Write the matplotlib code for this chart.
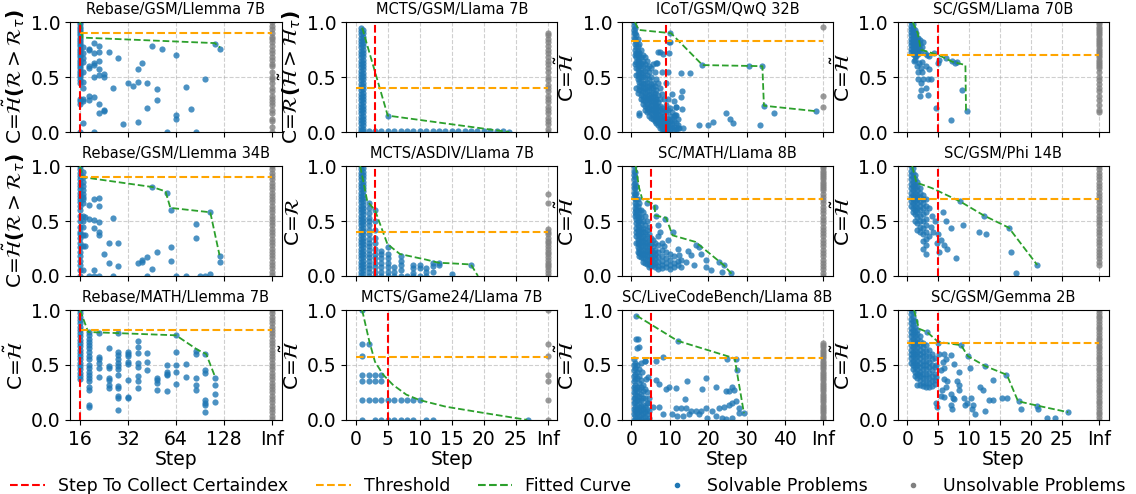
import matplotlib
matplotlib.use('Agg')
import matplotlib.pyplot as plt
from matplotlib.lines import Line2D
from matplotlib.ticker import NullLocator

BLUE = '#1f77b4'
GRAY = 'gray'
RED = 'red'
ORANGE = 'orange'
GREEN = '#2ca02c'

titles = ["Rebase/GSM/Llemma 7B", "MCTS/GSM/Llama 7B", "ICoT/GSM/QwQ 32B", "SC/GSM/Llama 70B",
          "Rebase/GSM/Llemma 34B", "MCTS/ASDIV/Llama 7B", "SC/MATH/Llama 8B", "SC/GSM/Phi 14B",
          "Rebase/MATH/Llemma 7B", "MCTS/Game24/Llama 7B", "SC/LiveCodeBench/Llama 8B", "SC/GSM/Gemma 2B"]
YL_RH = r'C=$\tilde{\mathcal{H}}\mathbf{(}\mathcal{R}>\mathcal{R}_{\tau}\mathbf{)}$'
YL_RHH = r'C=$\mathcal{R}\mathbf{(}\tilde{\mathcal{H}}>\mathcal{H}_{\tau}\mathbf{)}$'
YL_H = r'C=$\tilde{\mathcal{H}}$'
YL_R = r'C=$\mathcal{R}$'
ylabels = [YL_RH, YL_RHH, YL_H, YL_H, YL_RH, YL_R, YL_H, YL_H, YL_H, YL_H, YL_H, YL_H]
red_steps = [16, 3, 9, 5, 16, 3, 5, 5, 16, 5, 5, 5]
thresholds = [0.9, 0.4, 0.83, 0.7, 0.9, 0.4, 0.7, 0.7, 0.82, 0.57, 0.565, 0.7]

# per column x axes
col_ticks = [[16, 32, 64, 128, 256], [0, 5, 10, 15, 20, 25, 30], [0, 10, 20, 30, 40, 50], [0, 5, 10, 15, 20, 25, 31]]
col_ticklabels = [['16', '32', '64', '128', 'Inf'], ['0', '5', '10', '15', '20', '25', 'Inf'],
                  ['0', '10', '20', '30', '40', 'Inf'], ['0', '5', '10', '15', '20', '25', 'Inf']]
col_inf = [256, 30, 50, 31]
col_start = [16, 0, 0, 0]

# ---------------- Panel A: Rebase/GSM/Llemma 7B
a_col_x = [16, 16.7]
a_col_y = [[1.0, 0.98, 0.96, 0.94, 0.92, 0.9, 0.88, 0.86, 0.84, 0.82, 0.8, 0.78, 0.76, 0.74, 0.72, 0.7, 0.68, 0.66,
            0.64, 0.62, 0.6, 0.58, 0.56, 0.54, 0.52, 0.5, 0.47, 0.45, 0.3, 0.28, 0.26, 0.0],
           [0.77, 0.72, 0.67, 0.64, 0.55, 0.46, 0.4, 0.3, 0.28, 0.08]]
a_pts = [(18.3, 0.76), (18.3, 0.75), (19.7, 0.81), (21.1, 0.78), (21.1, 0.73), (19.7, 0.72), (19.7, 0.63), (21.1, 0.65),
         (18.3, 0.60), (18.3, 0.58), (19.7, 0.61), (21.1, 0.57), (19.7, 0.50), (21.1, 0.52), (22.6, 0.53), (22.6, 0.50),
         (18.3, 0.33), (18.3, 0.29), (19.7, 0.32), (21.1, 0.26), (21.1, 0.17), (22.6, 0.20), (22.6, 0.19), (19.7, 0.0),
         (24.2, 0.73), (27.7, 0.67), (25.9, 0.40), (29.9, 0.07), (32, 0.45), (34.2, 0.42), (36.8, 0.46), (36.8, 0.57),
         (39.4, 0.63), (42.3, 0.45), (36.8, 0.09), (42.3, 0.22), (45.5, 0.78), (48.6, 0.39), (48.6, 0.29), (52.3, 0.76),
         (56, 0.0), (64.3, 0.70), (64.3, 0.16), (64.3, 0.12), (74, 0.41), (79.5, 0.21), (85, 0.0), (97.7, 0.48),
         (112, 0.80), (121, 0.76)]
a_uy = [1.0, 0.97, 0.94, 0.9, 0.87, 0.85, 0.82, 0.78, 0.75, 0.72, 0.68, 0.66, 0.62, 0.6, 0.55, 0.5, 0.48, 0.45, 0.4,
        0.37, 0.33, 0.3, 0.27, 0.25, 0.2, 0.17, 0.12, 0.1, 0.05, 0.0]
a_fit = [(16, 1.0), (16.6, 0.86), (112, 0.81), (121, 0.77)]

# ---------------- Panel B: MCTS/GSM/Llama 7B
b_col_x = [0.8, 1.1]
b_col_y = [[0.95, 0.92, 0.89, 0.86, 0.83, 0.8, 0.77, 0.74, 0.71, 0.68, 0.65, 0.62, 0.59, 0.56, 0.53, 0.5, 0.47, 0.44,
            0.41, 0.38, 0.35, 0.32, 0.29, 0.26, 0.23, 0.2, 0.17, 0.14, 0.11, 0.08, 0.05, 0.02, 0.0],
           [0.93, 0.9, 0.87, 0.84, 0.81, 0.78, 0.75, 0.72, 0.69, 0.66, 0.63, 0.6, 0.57, 0.54, 0.51, 0.48, 0.45, 0.42,
            0.39, 0.36, 0.33, 0.3, 0.27, 0.24, 0.21, 0.18, 0.15, 0.12, 0.09, 0.06, 0.03, 0.01]]
b_pts = [(5, 0.15), (2, 0.01), (3, 0.01), (4, 0.01), (5, 0.01), (6, 0.01), (7, 0.01), (8, 0.01), (9, 0.01),
         (10, 0.01), (11, 0.01), (12, 0.01), (13, 0.01), (14, 0.01), (15, 0.01), (16, 0.01), (17, 0.01), (18, 0.01),
         (19, 0.01), (20, 0.01), (21, 0.01), (22, 0.01), (23, 0.01), (24, 0.0)]
b_uy = [0.9, 0.88, 0.85, 0.82, 0.78, 0.75, 0.72, 0.68, 0.65, 0.62, 0.58, 0.55, 0.5, 0.47, 0.43, 0.4, 0.37, 0.33, 0.3,
        0.27, 0.23, 0.2, 0.17, 0.13, 0.1, 0.07, 0.03, 0.0]
b_fit = [(1, 0.95), (5, 0.15), (24, 0.0)]

# ---------------- Panel C: ICoT/GSM/QwQ 32B
c_col_x = [0.6, 0.9, 1.2, 1.6, 2.0, 2.5, 3.0, 3.5, 4.0, 4.5, 5.0, 5.5, 6.0, 6.5, 7.0, 7.5, 8.0, 8.5, 9.0, 9.5, 10,
           10.5, 11, 11.5, 12]
c_col_y = [[1.0, 0.97, 0.93, 0.9, 0.86],
           [0.95, 0.9, 0.85, 0.8, 0.75, 0.7, 0.62],
           [0.88, 0.82, 0.77, 0.72, 0.68, 0.64, 0.58, 0.52, 0.4],
           [0.85, 0.78, 0.74, 0.7, 0.66, 0.62, 0.57, 0.53, 0.48, 0.36],
           [0.8, 0.72, 0.68, 0.64, 0.6, 0.55, 0.5, 0.46, 0.42, 0.38, 0.17],
           [0.75, 0.68, 0.63, 0.58, 0.54, 0.5, 0.46, 0.42, 0.38, 0.34, 0.3],
           [0.7, 0.65, 0.6, 0.55, 0.5, 0.45, 0.41, 0.37, 0.33, 0.29, 0.26],
           [0.68, 0.62, 0.56, 0.5, 0.45, 0.4, 0.36, 0.32, 0.28, 0.24, 0.2],
           [0.65, 0.58, 0.52, 0.46, 0.41, 0.37, 0.33, 0.3, 0.26, 0.22, 0.18],
           [0.6, 0.55, 0.48, 0.42, 0.38, 0.34, 0.3, 0.27, 0.23, 0.19, 0.15],
           [0.58, 0.5, 0.44, 0.4, 0.35, 0.31, 0.28, 0.25, 0.21, 0.17, 0.13],
           [0.62, 0.45, 0.4, 0.36, 0.32, 0.28, 0.24, 0.2, 0.16, 0.12],
           [0.55, 0.42, 0.36, 0.32, 0.28, 0.25, 0.21, 0.18, 0.14, 0.1],
           [0.63, 0.48, 0.38, 0.3, 0.26, 0.22, 0.18, 0.15, 0.11, 0.08],
           [0.73, 0.45, 0.34, 0.27, 0.23, 0.19, 0.16, 0.12, 0.09, 0.06],
           [0.4, 0.3, 0.24, 0.2, 0.16, 0.13, 0.1, 0.07, 0.04],
           [0.55, 0.35, 0.22, 0.18, 0.14, 0.11, 0.08, 0.05, 0.03],
           [0.3, 0.2, 0.15, 0.12, 0.09, 0.06, 0.03, 0.01],
           [0.45, 0.25, 0.18, 0.1, 0.07, 0.04, 0.02],
           [0.55, 0.3, 0.2, 0.12, 0.08, 0.05, 0.02],
           [0.82, 0.22, 0.15, 0.1, 0.06, 0.03],
           [0.35, 0.18, 0.12, 0.07, 0.04],
           [0.28, 0.15, 0.1, 0.05, 0.02],
           [0.23, 0.16, 0.08, 0.03],
           [0.12, 0.06, 0.04]]
c_pts = [(7.3, 0.73), (6.6, 0.63), (12.9, 0.54), (15.3, 0.54), (13.1, 0.37), (12.9, 0.32), (11.6, 0.23), (13.1, 0.21),
         (11.4, 0.16), (9.9, 0.82), (10, 0.9), (8.3, 0.71), (9.9, 0.72), (18.5, 0.61), (30.5, 0.60), (33.9, 0.60),
         (34.5, 0.24), (37.2, 0.17), (48.1, 0.19), (24.5, 0.17), (25.6, 0.12), (26.4, 0.08), (21.3, 0.09), (20, 0.06),
         (17.6, 0.06), (33.6, 0.06), (2.0, 0.16), (12.4, 0.04), (13.5, 0.04)]
c_uy = [0.96, 0.33, 0.23]
c_fit = [(0.9, 1.0), (1.9, 0.93), (10.3, 0.9), (18.5, 0.61), (34.1, 0.60), (34.5, 0.24), (48.1, 0.19)]

# ---------------- Panel D: SC/GSM/Llama 70B
d_col_x = [0.6, 0.9, 1.2, 1.5, 1.8, 2.1]
d_col_y = [[1.0, 0.97, 0.94, 0.91, 0.88, 0.85, 0.82, 0.79, 0.76, 0.73],
           [0.98, 0.95, 0.92, 0.89, 0.86, 0.83, 0.8, 0.77, 0.74, 0.71],
           [0.93, 0.9, 0.87, 0.84, 0.81, 0.78, 0.75, 0.72, 0.69],
           [0.9, 0.87, 0.84, 0.81, 0.78, 0.75, 0.72, 0.69],
           [0.86, 0.83, 0.8, 0.77, 0.74, 0.71],
           [0.84, 0.8, 0.76, 0.73]]
d_pts = [(1.3, 0.66), (1.9, 0.63), (2.4, 0.64), (1.6, 0.60), (2.2, 0.58), (3.0, 0.60), (3.5, 0.57), (1.7, 0.55),
         (2.4, 0.55), (1.7, 0.48), (2.5, 0.48), (3.4, 0.48), (3.9, 0.48), (2.2, 0.45), (2.3, 0.38), (3.0, 0.40),
         (2.0, 0.33), (3.4, 0.34), (4.6, 0.22), (7.0, 0.11), (8.9, 0.38), (9.6, 0.19), (7.3, 0.65), (7.7, 0.63),
         (8.1, 0.64), (4.3, 0.72), (5.1, 0.66), (4.9, 0.63), (6.2, 0.67), (2.8, 0.72), (3.5, 0.69), (1.1, 0.65),
         (2.6, 0.82), (2.4, 0.77), (3.2, 0.70)]
d_uy = [1.0, 0.98, 0.96, 0.94, 0.92, 0.9, 0.88, 0.86, 0.84, 0.82, 0.8, 0.78, 0.76, 0.74, 0.72, 0.7, 0.68, 0.66, 0.64,
        0.62, 0.6, 0.58, 0.55, 0.5, 0.47, 0.44, 0.4, 0.37, 0.33, 0.29, 0.25, 0.2, 0.18]
d_fit = [(0.9, 1.0), (1.7, 0.9), (2.2, 0.75), (5.1, 0.70), (7.3, 0.64), (9.4, 0.61), (9.5, 0.19)]

# ---------------- Panel E: Rebase/GSM/Llemma 34B
e_col_x = [16, 16.7]
e_col_y = [[1.0, 0.97, 0.94, 0.91, 0.88, 0.85, 0.82, 0.79, 0.76, 0.73, 0.7, 0.67, 0.64, 0.6, 0.55, 0.5, 0.45, 0.4,
            0.38, 0.35, 0.3, 0.26, 0.22, 0.18, 0.14, 0.1, 0.05, 0.0],
           [0.95, 0.9, 0.86, 0.82, 0.78, 0.75, 0.72, 0.7, 0.66, 0.55, 0.5, 0.45, 0.37, 0.27, 0.05]]
e_pts = [(18.3, 0.65), (19.7, 0.70), (21.1, 0.71), (21.1, 0.64), (19.7, 0.51), (21.1, 0.49), (19.7, 0.44),
         (21.1, 0.40), (21.1, 0.37), (18.3, 0.52), (17.3, 0.54), (17.3, 0.37), (17.3, 0.27), (19.7, 0.05), (19.7, 0.0),
         (22.6, 0.20), (24.2, 0.30), (24.2, 0.12), (25.9, 0.53), (27.7, 0.30), (27.7, 0.09), (25.9, 0.0), (36.8, 0.12),
         (39.4, 0.15), (39.4, 0.13), (42.3, 0.17), (45.5, 0.06), (48.6, 0.22), (45.5, 0.81), (56, 0.76), (59.7, 0.60),
         (59.7, 0.26), (59.7, 0.14), (85, 0.47), (85, 0.35), (105, 0.58), (121, 0.18), (121, 0.13), (105, 0.02),
         (42.3, 0.0), (64.3, 0.0), (74, 0.0), (90, 0.0), (97.7, 0.0), (18.3, 0.0), (21.1, 0.0)]
e_uy = [1.0, 0.97, 0.94, 0.91, 0.88, 0.85, 0.82, 0.79, 0.76, 0.73, 0.7, 0.67, 0.64, 0.61, 0.58, 0.55, 0.52, 0.49,
        0.46, 0.43, 0.4, 0.37, 0.34, 0.31, 0.28, 0.25, 0.22, 0.19, 0.16, 0.13, 0.1, 0.07, 0.04, 0.01]
e_fit = [(16, 1.0), (16.6, 0.9), (45.5, 0.81), (55, 0.77), (59, 0.62), (105, 0.58), (120, 0.19)]

# ---------------- Panel F: MCTS/ASDIV/Llama 7B
f_col_x = [0.8, 1.1, 2, 3, 4, 5, 6, 7, 8, 9, 10, 11, 12, 13, 15, 18]
f_col_y = [[1.0, 0.97, 0.94, 0.91, 0.88, 0.85, 0.82, 0.79, 0.76, 0.73, 0.7, 0.67, 0.64, 0.61, 0.58, 0.55, 0.52, 0.49,
            0.46, 0.43, 0.4, 0.37, 0.34, 0.31, 0.28, 0.25, 0.22, 0.19, 0.16, 0.13, 0.1, 0.07, 0.04, 0.01],
           [0.98, 0.95, 0.92, 0.89, 0.86, 0.83, 0.8, 0.77, 0.74, 0.71, 0.68, 0.65, 0.62, 0.59, 0.56, 0.53, 0.5, 0.47,
            0.44, 0.41, 0.38, 0.35, 0.32, 0.29, 0.26, 0.23, 0.2, 0.17, 0.14, 0.11, 0.08, 0.05, 0.02],
           [0.66, 0.62, 0.57, 0.53, 0.5, 0.46, 0.42, 0.38, 0.34, 0.3, 0.27, 0.24, 0.2, 0.17, 0.14, 0.1, 0.07, 0.04, 0.0],
           [0.6, 0.5, 0.42, 0.35, 0.3, 0.25, 0.2, 0.16, 0.12, 0.08, 0.04, 0.0],
           [0.23, 0.2, 0.16, 0.12, 0.08, 0.04, 0.0],
           [0.26, 0.2, 0.16, 0.12, 0.08, 0.04, 0.0],
           [0.08, 0.04, 0.0],
           [0.18, 0.14, 0.1, 0.05, 0.0],
           [0.0],
           [0.1, 0.07, 0.03, 0.0],
           [0.1, 0.07, 0.0],
           [0.07, 0.04, 0.0],
           [0.12, 0.09, 0.04],
           [0.12, 0.1],
           [0.02],
           [0.1]]
f_pts = []
f_uy = [0.75, 0.66, 0.43, 0.4, 0.38, 0.35, 0.32, 0.3, 0.27, 0.25, 0.22, 0.2, 0.17, 0.15, 0.12, 0.1, 0.08, 0.05, 0.03, 0.0]
f_fit = [(0.7, 1.0), (1.8, 0.68), (3, 0.6), (4.95, 0.29), (6.9, 0.2), (10.9, 0.15), (13, 0.12), (15, 0.115),
         (18, 0.105), (19.1, 0.0)]

# ---------------- Panel G: SC/MATH/Llama 8B
g_col_x = [0.6, 0.9, 1.2, 1.6, 2.0, 2.5, 3.0, 3.5, 4.0, 4.5, 5.0, 5.5, 6.0, 7.0, 8.0, 9.0, 10, 11, 12, 13]
g_col_y = [[1.0, 0.96, 0.92, 0.88, 0.84, 0.8, 0.76, 0.72],
           [0.95, 0.9, 0.85, 0.8, 0.75, 0.7, 0.66, 0.62, 0.58, 0.55],
           [0.82, 0.76, 0.7, 0.65, 0.6, 0.56, 0.52, 0.48, 0.44, 0.4, 0.36, 0.3],
           [0.7, 0.64, 0.58, 0.54, 0.5, 0.46, 0.42, 0.38, 0.34, 0.3, 0.26, 0.22],
           [0.66, 0.6, 0.55, 0.5, 0.45, 0.41, 0.37, 0.33, 0.29, 0.25, 0.21, 0.18],
           [0.6, 0.54, 0.48, 0.43, 0.39, 0.35, 0.31, 0.27, 0.23, 0.2, 0.17],
           [0.58, 0.5, 0.44, 0.4, 0.36, 0.32, 0.28, 0.24, 0.2, 0.16, 0.13],
           [0.55, 0.46, 0.4, 0.35, 0.31, 0.27, 0.23, 0.2, 0.16, 0.12],
           [0.5, 0.42, 0.36, 0.31, 0.27, 0.23, 0.19, 0.15, 0.11],
           [0.45, 0.38, 0.32, 0.27, 0.23, 0.19, 0.15, 0.11, 0.08],
           [0.35, 0.29, 0.24, 0.2, 0.16, 0.12, 0.09],
           [0.33, 0.27, 0.22, 0.18, 0.14, 0.1],
           [0.3, 0.24, 0.2, 0.16, 0.12, 0.08],
           [0.36, 0.28, 0.22, 0.17, 0.13, 0.09, 0.06],
           [0.3, 0.24, 0.18, 0.14, 0.1, 0.07],
           [0.22, 0.16, 0.12, 0.08],
           [0.2, 0.15, 0.1, 0.06],
           [0.18, 0.12, 0.08],
           [0.14, 0.1],
           [0.15, 0.08]]
g_pts = [(4, 0.66), (6, 0.63), (6.4, 0.55), (8.8, 0.52), (6.9, 0.46), (7.3, 0.40), (10.7, 0.40), (9.4, 0.33),
         (8.6, 0.27), (12, 0.25), (12.4, 0.19), (14.6, 0.23), (15.4, 0.19), (14.2, 0.13), (16.3, 0.10), (19.3, 0.08),
         (20.6, 0.05), (22.7, 0.13), (23.6, 0.04), (25.8, 0.03), (24, 0.10), (19.3, 0.15), (18, 0.20), (17.6, 0.26),
         (16.7, 0.28)]
g_uy = [1.0, 0.98, 0.96, 0.94, 0.92, 0.9, 0.88, 0.86, 0.84, 0.82, 0.8, 0.78, 0.75, 0.72, 0.69, 0.66, 0.63, 0.6, 0.57,
        0.54, 0.51, 0.48, 0.45, 0.42, 0.39, 0.36, 0.33, 0.3, 0.27, 0.24, 0.21, 0.18, 0.15, 0.12, 0.09, 0.06, 0.03, 0.0]
g_fit = [(1.1, 1.0), (2, 0.8), (2.8, 0.7), (6, 0.65), (6.2, 0.55), (9, 0.53), (10.7, 0.37), (16.7, 0.31), (24, 0.1),
         (26.2, 0.015)]

# ---------------- Panel H: SC/GSM/Phi 14B
h_col_x = [0.6, 0.9, 1.2, 1.6, 2.0, 2.5, 3.0]
h_col_y = [[1.0, 0.96, 0.92, 0.88, 0.84, 0.8, 0.76, 0.72, 0.68, 0.64],
           [0.98, 0.94, 0.9, 0.86, 0.82, 0.78, 0.74, 0.7, 0.66, 0.62, 0.58],
           [0.92, 0.88, 0.84, 0.8, 0.76, 0.72, 0.68, 0.64, 0.6, 0.56, 0.5],
           [0.86, 0.82, 0.78, 0.74, 0.7, 0.66, 0.62, 0.58, 0.54, 0.48, 0.42],
           [0.8, 0.76, 0.72, 0.68, 0.64, 0.6, 0.55, 0.5, 0.45, 0.4],
           [0.74, 0.7, 0.66, 0.62, 0.56, 0.5, 0.44, 0.38, 0.32],
           [0.7, 0.64, 0.58, 0.52, 0.46, 0.4, 0.34, 0.28]]
h_pts = [(3.5, 0.62), (4, 0.55), (4.5, 0.5), (3.8, 0.45), (4.2, 0.4), (5, 0.38), (5.5, 0.33), (4.8, 0.3), (6, 0.28),
         (3.5, 0.36), (6.5, 0.25), (5.2, 0.22), (7, 0.44), (9, 0.46), (6.3, 0.5), (5.8, 0.58), (8.5, 0.68),
         (11.6, 0.4), (12.7, 0.38), (16.8, 0.22), (17.5, 0.03), (7.9, 0.16), (12.4, 0.55), (16.4, 0.44), (21, 0.1),
         (2.5, 0.25), (3, 0.2)]
h_uy = [1.0, 0.97, 0.94, 0.91, 0.88, 0.85, 0.82, 0.79, 0.76, 0.73, 0.7, 0.67, 0.64, 0.61, 0.58, 0.55, 0.52, 0.49,
        0.46, 0.43, 0.4, 0.37, 0.34, 0.31, 0.28, 0.25, 0.22, 0.19, 0.16, 0.13, 0.1]
h_fit = [(0.8, 1.0), (1.5, 0.85), (4, 0.8), (8.5, 0.68), (12.4, 0.55), (16.4, 0.44), (21, 0.1)]

# ---------------- Panel I: Rebase/MATH/Llemma 7B
i_col_x = [16, 18.3, 21.1, 24.2, 27.7, 32, 36.8, 42.3, 48.6, 56, 64.3, 74, 85, 97.7, 112]
i_col_y = [[1.0, 0.97, 0.94, 0.91, 0.88, 0.85, 0.82, 0.79, 0.76, 0.73, 0.7, 0.67, 0.64, 0.61, 0.58, 0.55, 0.52, 0.49,
            0.46, 0.43, 0.4, 0.37],
           [0.8, 0.77, 0.74, 0.71, 0.68, 0.65, 0.62, 0.58, 0.55, 0.5, 0.47, 0.44, 0.41, 0.38, 0.35, 0.3, 0.27, 0.14,
            0.12],
           [0.79, 0.57, 0.55, 0.52, 0.47, 0.39],
           [0.65, 0.49, 0.47, 0.38, 0.36, 0.32, 0.29],
           [0.79, 0.62, 0.59, 0.55, 0.52, 0.49, 0.46, 0.41, 0.31, 0.29, 0.22, 0.2, 0.09],
           [0.62, 0.6, 0.58, 0.53, 0.51, 0.36, 0.21, 0.2],
           [0.72, 0.66, 0.61, 0.52, 0.48, 0.4, 0.35, 0.29],
           [0.61, 0.53, 0.45],
           [0.38, 0.36, 0.34, 0.27],
           [0.5, 0.44, 0.42, 0.41, 0.26],
           [0.77, 0.62, 0.5, 0.44, 0.33],
           [0.51, 0.39],
           [0.63, 0.6, 0.38, 0.32, 0.27],
           [0.6, 0.45, 0.43, 0.18, 0.15, 0.14, 0.07],
           [0.38, 0.32, 0.24, 0.16]]
i_pts = []
i_uy = [1.0, 0.97, 0.94, 0.91, 0.88, 0.85, 0.82, 0.79, 0.76, 0.73, 0.7, 0.67, 0.64, 0.61, 0.58, 0.55, 0.52, 0.49,
        0.46, 0.43, 0.4, 0.37, 0.34, 0.31, 0.28, 0.25, 0.22, 0.19, 0.16, 0.13, 0.1, 0.07, 0.04, 0.01]
i_fit = [(16, 1.0), (18, 0.8), (64, 0.77), (87, 0.64), (99, 0.6), (112, 0.4)]

# ---------------- Panel J: MCTS/Game24/Llama 7B
j_col_x = []
j_col_y = []
j_pts = [(1, 1.0), (1, 0.69), (2, 0.69), (1, 0.58), (1, 0.41), (2, 0.41), (3, 0.41), (4, 0.41), (1, 0.35), (2, 0.35),
         (3, 0.35), (4, 0.35), (1, 0.18), (2, 0.18), (3, 0.18), (4, 0.18), (5, 0.18), (6, 0.18), (7, 0.18), (8, 0.18),
         (9, 0.18), (10, 0.18), (1, 0.0), (3, 0.0), (4, 0.0), (5, 0.0), (6, 0.0), (7, 0.0), (8, 0.0), (9, 0.0),
         (11, 0.0), (12, 0.0), (27, 0.0)]
j_uy = [1.0, 0.69, 0.58, 0.41, 0.35, 0.18, 0.0]
j_fit = [(1, 1.0), (2.1, 0.72), (3, 0.53), (4.3, 0.41), (5.8, 0.32), (7.9, 0.23), (10, 0.18), (14.1, 0.12),
         (19.3, 0.07), (26.8, 0.0)]

# ---------------- Panel K: SC/LiveCodeBench/Llama 8B
k_col_x = [0.6, 1.0, 1.5, 2.0, 2.5, 3.0, 3.5, 4.0, 4.5]
k_col_y = [[0.55, 0.5, 0.45, 0.4, 0.35, 0.3, 0.25, 0.2, 0.15, 0.1, 0.05, 0.0],
           [0.52, 0.47, 0.42, 0.37, 0.32, 0.28, 0.24, 0.2, 0.16, 0.12, 0.08, 0.04, 0.0],
           [0.5, 0.44, 0.38, 0.3, 0.26, 0.22, 0.18, 0.14, 0.1, 0.06, 0.02],
           [0.46, 0.4, 0.34, 0.28, 0.22, 0.17, 0.12, 0.08, 0.04, 0.0],
           [0.52, 0.36, 0.3, 0.24, 0.18, 0.13, 0.09, 0.05, 0.01],
           [0.32, 0.26, 0.2, 0.14, 0.1, 0.06, 0.02],
           [0.54, 0.28, 0.2, 0.12, 0.07, 0.03],
           [0.25, 0.15, 0.1, 0.05, 0.0],
           [0.2, 0.08, 0.02]]
k_pts = [(1.3, 0.95), (1.2, 0.74), (1.7, 0.74), (1.5, 0.65), (2, 0.66), (2.7, 0.44), (3.9, 0.37), (4.3, 0.39),
         (3.5, 0.54), (6.3, 0.54), (8.3, 0.57), (12, 0.72), (24.9, 0.55), (27.1, 0.55), (27.4, 0.45), (6.3, 0.36),
         (7.2, 0.33), (9.8, 0.30), (8.9, 0.28), (11.5, 0.29), (14.5, 0.35), (19.3, 0.38), (18.3, 0.28), (21.9, 0.30),
         (24.5, 0.26), (25.4, 0.26), (26.2, 0.30), (26.7, 0.27), (13.9, 0.19), (11.5, 0.11), (12.8, 0.11),
         (14.1, 0.11), (15.4, 0.08), (16.7, 0.08), (18, 0.08), (19.3, 0.11), (21, 0.08), (22.8, 0.11), (24.1, 0.12),
         (25.4, 0.14), (26.2, 0.15), (27.1, 0.17), (28, 0.11), (29.4, 0.06), (10.6, 0.05), (11.9, 0.04), (13.4, 0.04),
         (14.9, 0.05), (17.6, 0.05), (19.7, 0.02), (21.9, 0.04), (23.6, 0.02), (24.5, 0.01), (8.2, 0.05),
         (7.2, 0.12), (5.5, 0.12), (4.2, 0.15), (26.2, 0.02), (28, 0.06)]
k_uy = [0.7, 0.68, 0.66, 0.64, 0.62, 0.6, 0.58, 0.56, 0.54, 0.52, 0.5, 0.48, 0.46, 0.44, 0.42, 0.4, 0.38, 0.36, 0.34,
        0.32, 0.3, 0.28, 0.26, 0.24, 0.22, 0.2, 0.18, 0.16, 0.14, 0.12, 0.1, 0.08, 0.06, 0.04, 0.02, 0.0]
k_fit = [(1.3, 0.95), (12, 0.72), (26.9, 0.56), (27.4, 0.45), (29.3, 0.06)]

# ---------------- Panel L: SC/GSM/Gemma 2B
l_col_x = [0.6, 0.9, 1.2, 1.6, 2.0, 2.5, 3.0, 3.5, 4.0, 4.5]
l_col_y = [[1.0, 0.96, 0.92, 0.88, 0.84, 0.8, 0.76, 0.72, 0.68, 0.64, 0.6, 0.56, 0.52],
           [0.98, 0.94, 0.9, 0.86, 0.82, 0.78, 0.74, 0.7, 0.66, 0.62, 0.58, 0.54, 0.5, 0.46],
           [0.9, 0.85, 0.8, 0.76, 0.72, 0.68, 0.64, 0.6, 0.56, 0.52, 0.48, 0.44, 0.4],
           [0.82, 0.78, 0.74, 0.7, 0.66, 0.62, 0.58, 0.54, 0.5, 0.46, 0.42, 0.38, 0.32],
           [0.76, 0.72, 0.68, 0.64, 0.6, 0.56, 0.52, 0.48, 0.44, 0.4, 0.36, 0.32],
           [0.7, 0.66, 0.62, 0.58, 0.54, 0.5, 0.46, 0.42, 0.38, 0.34, 0.31],
           [0.68, 0.63, 0.58, 0.54, 0.5, 0.46, 0.42, 0.38, 0.34, 0.3],
           [0.64, 0.58, 0.53, 0.48, 0.43, 0.38, 0.34, 0.3],
           [0.6, 0.55, 0.5, 0.45, 0.4, 0.35, 0.31],
           [0.56, 0.48, 0.42, 0.36, 0.33]]
l_pts = [(5.1, 0.6), (5.9, 0.6), (6.2, 0.55), (5.8, 0.53), (4.6, 0.5), (5.4, 0.45), (6, 0.47), (4.6, 0.39), (6, 0.37),
         (6.4, 0.35), (6.3, 0.3), (5.6, 0.27), (5.4, 0.22), (6, 0.21), (4.6, 0.15), (4.8, 0.12), (7.1, 0.24),
         (7.4, 0.2), (7.6, 0.19), (7, 0.14), (7.2, 0.1), (8, 0.35), (8.3, 0.32), (8.4, 0.27), (9.1, 0.2), (9.4, 0.14),
         (9.6, 0.15), (10.3, 0.2), (10.7, 0.14), (10.4, 0.1), (10.9, 0.05), (9.8, 0.58), (10.2, 0.47), (8.3, 0.44),
         (7.5, 0.51), (7, 0.59), (8.7, 0.68), (12.5, 0.49), (11.8, 0.3), (12.2, 0.27), (13.2, 0.18), (13.8, 0.36),
         (12.6, 0.08), (13.9, 0.18), (15.3, 0.2), (16.1, 0.2), (16, 0.41), (18, 0.17), (18.4, 0.1), (21, 0.13),
         (21.1, 0.1), (22.6, 0.02), (23.8, 0.02), (26, 0.07), (1.9, 0.42), (5, 0.7), (3.2, 0.8)]
l_uy = [1.0, 0.975, 0.95, 0.925, 0.9, 0.875, 0.85, 0.825, 0.8, 0.775, 0.75, 0.725, 0.7, 0.675, 0.65, 0.625, 0.6,
        0.575, 0.55, 0.525, 0.5, 0.475, 0.45, 0.425, 0.4, 0.375, 0.35, 0.325, 0.3, 0.275, 0.25, 0.225, 0.2, 0.175,
        0.15, 0.125, 0.1, 0.075, 0.05, 0.025, 0.0]
l_fit = [(1.1, 1.0), (1.9, 0.83), (3.2, 0.8), (5, 0.71), (8.7, 0.68), (9.8, 0.58), (12.6, 0.49), (16.1, 0.41),
         (17.9, 0.17), (21, 0.13), (26, 0.07)]

cols_x = [a_col_x, b_col_x, c_col_x, d_col_x, e_col_x, f_col_x, g_col_x, h_col_x, i_col_x, j_col_x, k_col_x, l_col_x]
cols_y = [a_col_y, b_col_y, c_col_y, d_col_y, e_col_y, f_col_y, g_col_y, h_col_y, i_col_y, j_col_y, k_col_y, l_col_y]
pts = [a_pts, b_pts, c_pts, d_pts, e_pts, f_pts, g_pts, h_pts, i_pts, j_pts, k_pts, l_pts]
unsolv = [a_uy, b_uy, c_uy, d_uy, e_uy, f_uy, g_uy, h_uy, i_uy, j_uy, k_uy, l_uy]
fits = [a_fit, b_fit, c_fit, d_fit, e_fit, f_fit, g_fit, h_fit, i_fit, j_fit, k_fit, l_fit]

fig, axes = plt.subplots(3, 4, figsize=(11.36, 4.94), dpi=100)
fig.subplots_adjust(left=0.062, right=0.976, top=0.955, bottom=0.15, hspace=0.31, wspace=0.306)

for i, ax in enumerate(axes.flat):
    col, row = i % 4, i // 4
    sx, sy = [], []
    for x, ys in zip(cols_x[i], cols_y[i]):
        sx += [x] * len(ys)
        sy += list(ys)
    for x, y in pts[i]:
        sx.append(x)
        sy.append(y)
    if col == 0:
        ax.set_xscale('log', base=2)
    ax.scatter(sx, sy, s=20, color=BLUE, alpha=0.8, linewidths=0, zorder=2)
    ax.scatter([col_inf[col]] * len(unsolv[i]), unsolv[i], s=20, color=GRAY, alpha=0.8, linewidths=0, zorder=2)
    fx = [p[0] for p in fits[i]]
    fy = [p[1] for p in fits[i]]
    ax.plot(fx, fy, ls='--', color=GREEN, lw=1.3, zorder=4)
    ax.hlines(thresholds[i], col_start[col], col_inf[col], colors=ORANGE, linestyles='--', lw=1.5, zorder=4)
    ax.axvline(red_steps[i], color=RED, ls='--', lw=1.5, zorder=5)

    ax.set_xticks(col_ticks[col])
    ax.set_xticklabels(col_ticklabels[col])
    ax.xaxis.set_minor_locator(NullLocator())
    if col == 0:
        ax.set_xlim(16 / 2 ** 0.2, 256 * 2 ** 0.2)
    else:
        inf = col_inf[col]
        ax.set_xlim(-0.05 * inf, 1.05 * inf)
    ax.set_ylim(0, 1)
    ax.set_yticks([0.0, 0.5, 1.0])
    ax.set_yticklabels(['0.0', '0.5', '1.0'])
    ax.tick_params(labelsize=13.5)
    ax.grid(True, ls='--', color='#b0b0b0', alpha=0.6, lw=0.8)
    ax.set_axisbelow(True)
    ax.set_title(titles[i], fontsize=10.5)
    ax.set_ylabel(ylabels[i], fontsize=14.5, labelpad=3)
    if row < 2:
        ax.tick_params(labelbottom=False)
    else:
        ax.set_xlabel('Step', fontsize=13.5, labelpad=1)

handles = [Line2D([0], [0], color=RED, ls='--', lw=1.5),
           Line2D([0], [0], color=ORANGE, ls='--', lw=1.5),
           Line2D([0], [0], color=GREEN, ls='--', lw=1.5),
           Line2D([0], [0], marker='o', ls='', color=BLUE, markersize=3),
           Line2D([0], [0], marker='o', ls='', color=GRAY, markersize=3)]
labels = ['Step To Collect Certaindex', 'Threshold', 'Fitted Curve', 'Solvable Problems', 'Unsolvable Problems']
fig.legend(handles, labels, loc='lower center', ncol=5, frameon=False, fontsize=12.5,
           bbox_to_anchor=(0.5, -0.034), columnspacing=1.6, handlelength=2.0, handletextpad=0.75)

fig.savefig('out.png', dpi=100)
